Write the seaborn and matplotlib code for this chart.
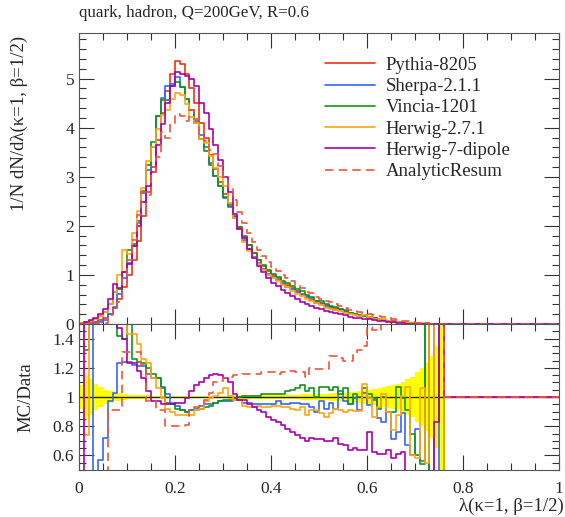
import numpy as np
import matplotlib
matplotlib.use("Agg")
import matplotlib.pyplot as plt
from matplotlib.ticker import MultipleLocator, FixedLocator
import seaborn as sns

# ---------------- data (bins of width 0.01 from 0 to 1) ----------------
bin_edges = np.round(np.linspace(0.0, 1.0, 101), 2)

# Pythia-8205 distribution, bins 0.00 ... 0.75 (zero afterwards)
pythia = [0.01, 0.02, 0.03, 0.05, 0.08, 0.12, 0.20, 0.33, 0.50, 0.75,
          1.00, 1.30, 1.70, 2.20, 2.70, 3.20, 3.75, 4.30, 4.75, 5.10,
          5.35, 5.30, 5.10, 4.80, 4.50, 4.10, 3.80, 3.45, 3.15, 2.90,
          2.65, 2.45, 2.20, 1.98, 1.78, 1.60, 1.44, 1.30, 1.18, 1.08,
          1.00, 0.93, 0.86, 0.80, 0.74, 0.68, 0.62, 0.57, 0.52, 0.47,
          0.43, 0.39, 0.35, 0.32, 0.29, 0.26, 0.23, 0.20, 0.18, 0.16,
          0.14, 0.125, 0.11, 0.09, 0.07, 0.055, 0.045, 0.035, 0.027, 0.02,
          0.014, 0.010, 0.007, 0.004, 0.002, 0.001]

# MC / Data ratios (reference = Pythia), bins 0.00 ... 0.75
ratio_sherpa = [2.0, 2.0, 2.0, 0.3, 0.57, 0.72, 0.97, 1.03, 1.23, 1.24,
                1.24, 1.22, 1.21, 1.21, 1.16, 1.13, 1.13, 1.07, 1.02, 0.96,
                0.94, 0.91, 0.90, 0.91, 0.92, 0.94, 0.95, 0.95, 0.96, 0.97,
                0.97, 0.97, 0.98, 0.98, 0.96, 0.96, 0.95, 0.95, 0.95, 0.95,
                0.95, 0.97, 0.95, 0.95, 0.96, 0.96, 0.955, 0.95, 0.93, 0.90,
                0.97, 0.92, 0.96, 0.92, 1.04, 0.97, 0.955, 0.99, 0.91, 1.03,
                0.944, 0.977, 0.853, 0.83, 0.90, 0.71, 0.76, 0.89, 0.67, 0.60,
                0.78, 0.56, 1.60, 0.30, 1.60, 0.30]
ratio_vincia = [2.0, 1.32, 2.0, 2.0, 2.0, 2.0, 2.0, 2.0, 1.42, 1.40,
                1.50, 1.26, 1.24, 1.23, 1.20, 1.16, 1.13, 1.06, 0.96, 0.95,
                0.92, 0.91, 0.90, 0.91, 0.91, 0.92, 0.93, 0.94, 0.96, 0.97,
                0.98, 0.98, 0.99, 1.00, 1.01, 1.01, 1.01, 1.01, 1.02, 1.02,
                1.02, 1.02, 1.02, 1.04, 1.05, 1.06, 1.08, 1.04, 1.06, 1.00,
                1.07, 1.07, 1.05, 1.07, 1.02, 1.06, 0.955, 1.02, 1.00, 1.06,
                1.02, 0.99, 0.92, 1.00, 0.90, 0.90, 1.07, 0.99, 0.91, 0.75,
                0.60, 0.54, 2.00, 0.35, 0.30, 0.30]
ratio_herwig2 = [2.0, 0.74, 2.0, 2.0, 2.0, 2.0, 2.0, 2.0, 2.0, 2.0,
                 1.43, 1.43, 1.36, 1.26, 1.23, 1.13, 1.06, 0.99, 0.92, 0.90,
                 0.88, 0.88, 0.88, 0.88, 0.91, 0.92, 0.97, 0.99, 1.01, 1.03,
                 1.06, 1.01, 0.98, 0.98, 0.94, 0.93, 0.93, 0.94, 0.93, 0.93,
                 0.94, 0.94, 0.93, 0.93, 0.92, 0.91, 0.93, 0.88, 0.91, 0.91,
                 0.89, 0.86, 0.89, 0.92, 0.91, 0.90, 0.91, 0.905, 0.905, 1.09,
                 0.99, 0.864, 0.93, 1.02, 0.90, 0.774, 0.876, 1.01, 1.07, 0.605,
                 0.58, 1.06, 0.55, 2.00, 0.30, 0.30]
ratio_herwig7 = [0.30, 2.5, 2.5, 2.5, 2.5, 2.5, 2.5, 2.5, 1.47, 1.40,
                 1.23, 1.23, 1.18, 1.13, 1.04, 0.97, 0.97, 0.95, 0.95, 0.95,
                 0.96, 0.96, 0.99, 1.04, 1.08, 1.10, 1.13, 1.15, 1.16, 1.15,
                 1.13, 1.10, 1.02, 0.98, 0.98, 0.95, 0.93, 0.91, 0.90, 0.86,
                 0.84, 0.83, 0.81, 0.78, 0.76, 0.74, 0.72, 0.70, 0.72, 0.71,
                 0.71, 0.70, 0.70, 0.72, 0.68, 0.67, 0.64, 0.65, 0.64, 0.64,
                 0.76, 0.62, 0.61, 0.61, 0.64, 0.58, 0.61, 0.62, 0.30, 0.30,
                 0.30, 0.30, 0.30, 0.30, 0.83, 3.00]
ratio_analytic = [0.20, 0.20, 0.20, 0.20, 0.20, 0.20, 0.91, 0.91, 0.91, 1.31,
                  1.31, 1.31, 1.31, 1.22, 0.97, 0.97, 0.91, 0.91, 0.80, 0.80,
                  0.80, 0.80, 0.81, 0.91, 0.93, 0.94, 0.98, 1.03, 1.10, 1.11,
                  1.13, 1.14, 1.15, 1.15, 1.16, 1.16, 1.16, 1.16, 1.17, 1.17,
                  1.17, 1.16, 1.17, 1.17, 1.18, 1.17, 1.17, 1.14, 1.20, 1.19,
                  1.19, 1.19, 1.28, 1.28, 1.27, 1.25, 1.25, 1.29, 1.32, 1.35,
                  1.48, 1.46, 1.45, 1.60, 1.70, 1.80, 1.90, 2.00, 2.00, 2.00,
                  2.00, 2.00, 2.00, 2.00, 2.00, 2.00]
# relative statistical uncertainty of the reference (yellow band)
ref_err = [0.08, 0.15, 0.12, 0.09, 0.07, 0.05, 0.04, 0.03, 0.025, 0.02,
           0.017, 0.015, 0.013, 0.012, 0.011, 0.010, 0.010, 0.010, 0.010, 0.010,
           0.010, 0.010, 0.010, 0.010, 0.010, 0.010, 0.010, 0.010, 0.010, 0.010,
           0.010, 0.011, 0.011, 0.011, 0.012, 0.012, 0.012, 0.013, 0.013, 0.014,
           0.014, 0.015, 0.015, 0.016, 0.016, 0.017, 0.018, 0.018, 0.019, 0.020,
           0.020, 0.022, 0.024, 0.026, 0.028, 0.030, 0.033, 0.037, 0.041, 0.045,
           0.050, 0.055, 0.060, 0.066, 0.073, 0.080, 0.090, 0.100, 0.120, 0.140,
           0.170, 0.200, 0.230, 0.280, 0.350, 0.700]

labels = ["Pythia-8205", "Sherpa-2.1.1", "Vincia-1201", "Herwig-2.7.1",
          "Herwig-7-dipole", "AnalyticResum"]
colors = ["#EE3311", "#3366FF", "#109618", "#FFA510", "#AA00AA", "#F0553A"]

title = "quark, hadron, Q=200GeV, R=0.6"
ylabel_main = "1/N dN/dλ(κ=1, β=1/2)"
ylabel_ratio = "MC/Data"
xlabel = "λ(κ=1, β=1/2)"

# ---------------- derived arrays ----------------
nbins = len(bin_edges) - 1
def pad(a, v):
    a = np.asarray(a, float)
    return np.concatenate([a, np.full(nbins - len(a), v)])

pyth = pad(pythia, 0.0)
ratios = [pad(r, 1.0) for r in (ratio_sherpa, ratio_vincia, ratio_herwig2,
                                 ratio_herwig7, ratio_analytic)]
mains = [pyth] + [pyth * r for r in ratios]
err = pad(ref_err, 0.0)

# ---------------- style ----------------
sns.set_style("ticks")
plt.rcParams["font.family"] = ["Liberation Serif", "DejaVu Serif"]
FS = 13.5
TFS = 12.5

fig = plt.figure(figsize=(5.65, 5.17), dpi=100)
L, R = 79 / 565, 559 / 565
ax = fig.add_axes([L, 1 - 324 / 517, R - L, (324 - 33) / 517])
ax2 = fig.add_axes([L, 1 - 470 / 517, R - L, (470 - 324) / 517])

def stepline(axis, vals, color, ls="-", label=None, lw=1.2):
    y = np.append(vals, vals[-1])
    sns.lineplot(x=bin_edges, y=y, ax=axis, color=color, lw=lw,
                 drawstyle="steps-post", estimator=None, sort=False,
                 linestyle=ls, label=label, legend=False)

dash = (0, (5, 3.2))
for vals, c, lab in zip(mains, colors, labels):
    stepline(ax, vals, c, ls=dash if lab == "AnalyticResum" else "-", label=lab)

# ratio panel
ax2.fill_between(bin_edges, np.append(1 - err, 1 - err[-1]),
                 np.append(1 + err, 1 + err[-1]), step="post",
                 color="#FFFF00", lw=0, zorder=1)
ax2.axhline(1.0, color="#222222", lw=1.0, zorder=2)
for vals, c, lab in zip(ratios, colors[1:], labels[1:]):
    stepline(ax2, vals, c, ls=dash if lab == "AnalyticResum" else "-")

# axes ranges / ticks
for a in (ax, ax2):
    a.set_xlim(0, 1)
    a.xaxis.set_major_locator(MultipleLocator(0.2))
    a.xaxis.set_minor_locator(MultipleLocator(0.05))
    a.tick_params(which="both", direction="in", top=True, right=True,
                  width=0.8, color="#333333", labelsize=TFS)
    a.tick_params(which="major", length=10.5)
    a.tick_params(which="minor", length=5)
    for s in a.spines.values():
        s.set_linewidth(0.8)
        s.set_color("#555555")

ax.set_ylim(0, 5.93)
ax.yaxis.set_major_locator(MultipleLocator(1))
ax.yaxis.set_minor_locator(MultipleLocator(0.2))
ax.tick_params(labelbottom=False)
ax.set_xlabel("")

ax2.set_ylim(0.5, 1.5)
ax2.yaxis.set_major_locator(FixedLocator([0.6, 0.8, 1.0, 1.2, 1.4]))
ax2.yaxis.set_minor_locator(MultipleLocator(0.05))
ax2.set_yticklabels(["0.6", "0.8", "1", "1.2", "1.4"])
ax2.set_xticks([0, 0.2, 0.4, 0.6, 0.8, 1.0])
ax2.set_xticklabels(["0", "0.2", "0.4", "0.6", "0.8", "1"])
ax2.tick_params(axis="x", pad=8)

ax.set_ylabel(ylabel_main, fontsize=FS, loc="top")
ax.yaxis.set_label_coords(-0.107, 0.99)
ax2.set_ylabel(ylabel_ratio, fontsize=FS)
ax2.yaxis.set_label_coords(-0.093, 0.5)
ax2.set_xlabel(xlabel, fontsize=FS, loc="right")
ax2.xaxis.set_label_coords(1.01, -0.19)

fig.text(L, 1 - 13 / 517, title, fontsize=12.2, ha="left", va="center")

handles = ax.get_lines()[:6]
ax.legend(handles, labels, loc="upper left", bbox_to_anchor=(0.512, 0.918),
          frameon=False, fontsize=FS, handlelength=2.67, handletextpad=0.59,
          labelspacing=0.22, borderpad=0, borderaxespad=0)

fig.savefig("out.png", dpi=100)
